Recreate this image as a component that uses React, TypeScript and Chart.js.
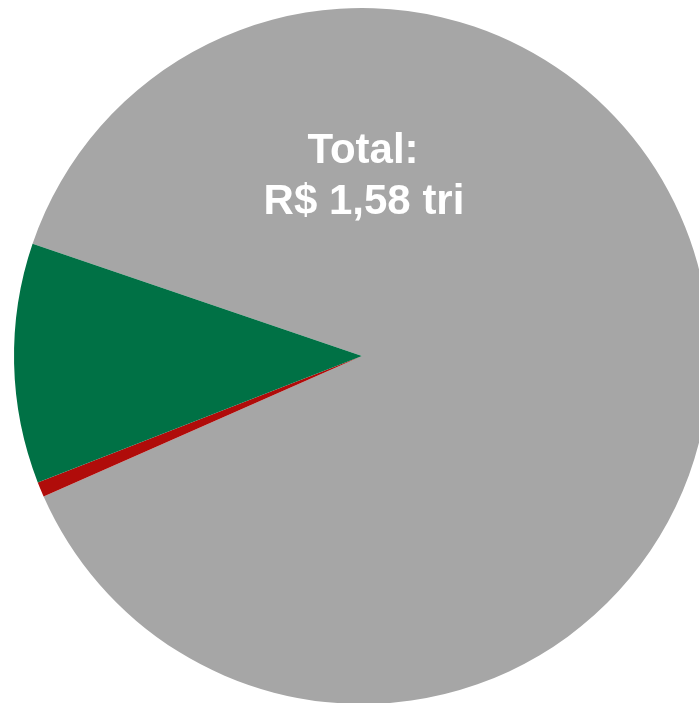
import React, { useEffect, useRef } from "react";
import { Chart, registerables } from "chart.js";

Chart.register(...registerables);

const categories = ["Outros", "Vermelho", "Verde"];
const values = [1.393, 0.011, 0.176]; // R$ tri
const colors = ["#A6A6A6", "#B00C0A", "#007145"];
const totalLines = ["Total:", "R$ 1,58 tri"];

const textPlugin = {
  id: "totalText",
  afterDraw(chart: any) {
    const ctx = chart.ctx;
    ctx.save();
    ctx.fillStyle = "#FFFFFF";
    ctx.font = "bold 42px 'Liberation Sans', Arial, sans-serif";
    ctx.textAlign = "center";
    ctx.textBaseline = "alphabetic";
    ctx.fillText(totalLines[0], 363, 163);
    ctx.fillText(totalLines[1], 364, 214);
    ctx.restore();
  },
};

export default function App() {
  const ref = useRef<HTMLCanvasElement>(null);
  useEffect(() => {
    if (!ref.current) return;
    const chart = new Chart(ref.current, {
      type: "pie",
      data: {
        labels: categories,
        datasets: [
          {
            data: values,
            backgroundColor: colors,
            borderWidth: 0,
            radius: 348,
          } as any,
        ],
      },
      options: {
        animation: false,
        responsive: false,
        maintainAspectRatio: false,
        rotation: -71.2,
        layout: { padding: { top: 8, bottom: 8, left: 0, right: 0 } },
        plugins: {
          legend: { display: false },
          tooltip: { enabled: false },
          title: { display: false },
        },
      },
      plugins: [textPlugin],
    });
    return () => chart.destroy();
  }, []);
  return (
    <div
      style={{
        position: "fixed",
        left: 0,
        top: 0,
        width: 699,
        height: 703,
        overflow: "hidden",
        background: "#FFFFFF",
      }}
    >
      <canvas ref={ref} width={724} height={712} style={{ display: "block", width: 724, height: 712 }} />
    </div>
  );
}
